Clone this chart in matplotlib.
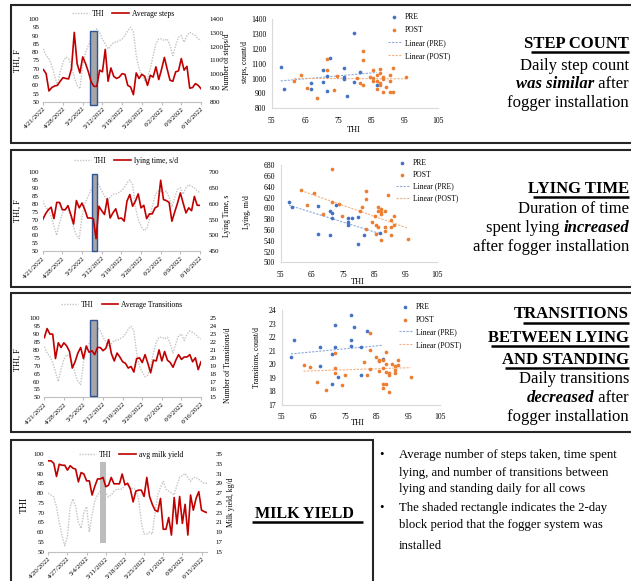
import numpy as np
import pandas as pd
import matplotlib
matplotlib.use("Agg")
import matplotlib.pyplot as plt
import matplotlib.dates as mdates
from matplotlib.lines import Line2D
from matplotlib.patches import Rectangle

plt.rcParams['font.family'] = ['Liberation Serif', 'DejaVu Serif']

W, H = 631, 581
RED = '#C00000'
GREY = '#C4C4C4'
BLUE = '#4472C4'
ORANGE = '#ED7D31'

# ---------------- daily series ----------------
days = pd.date_range('2022-04-21', '2022-06-16')
thi = [82, 78, 76, 72, 66, 60, 68, 74, 77, 76, 72, 65, 60, 58, 72, 80, 84, 88, 91, 94,
       92, 88, 85, 82, 84, 86, 86, 87, 88, 90, 93, 95, 92, 78, 70, 66, 63, 64, 70, 78,
       85, 88, 88, 87, 88, 84, 78, 84, 89, 90, 86, 90, 92, 91, 90, 88, 87]
steps = [1035, 1005, 880, 904, 916, 920, 950, 976, 970, 967, 1040, 1303, 1078, 1010, 1126,
         1078, 1018, 945, 913, 913, 1030, 1018, 1180, 950, 1046, 986, 970, 980, 1005, 1000,
         920, 908, 853, 1010, 970, 1000, 986, 920, 993, 980, 1054, 962, 1037, 1122, 1037,
         957, 950, 1018, 1025, 1114, 1030, 1058, 900, 904, 933, 920, 896]
lying = [550, 568, 581, 589, 553, 604, 604, 581, 581, 594, 566, 536, 610, 587, 602, 581,
         555, 555, 553, 490, 592, 578, 566, 616, 555, 571, 584, 553, 555, 545, 608, 629,
         592, 608, 631, 587, 595, 553, 568, 568, 587, 592, 674, 613, 610, 604, 545, 574,
         602, 634, 602, 571, 587, 578, 623, 595, 595]
transitions = [22.55, 23.7, 23.0, 23.0, 19.9, 21.9, 21.3, 21.9, 21.5, 20.8, 18.7, 19.5,
               20.6, 21.3, 19.9, 21.5, 20.7, 20.9, 20.4, 21.3, 21.3, 20.9, 21.2, 22.3, 20.5,
               19.6, 20.6, 20.1, 19.5, 19.3, 18.7, 18.9, 18.2, 19.9, 20.0, 19.4, 20.4, 19.3,
               18.1, 19.7, 19.6, 21.0, 19.6, 20.8, 19.7, 19.4, 18.8, 19.7, 20.4, 19.8, 20.1,
               20.1, 20.4, 19.5, 20.0, 18.5, 19.5]

milk_days = pd.date_range('2022-04-20', '2022-06-17')
milk_thi = [80, 79, 78, 73, 65, 58.5, 53, 58, 73, 77, 73, 65, 62, 70, 73, 60, 69, 76, 79, 81,
            84, 80, 78, 79, 81, 82, 82, 82, 84, 84, 83, 82, 82, 77, 65, 59, 59, 60, 59, 70,
            79, 83, 86, 82, 81, 80, 79, 84, 88, 89, 90, 88, 86, 88, 88, 87, 86, 85, 85]
milk = [33.6, 33.6, 33.1, 30.4, 32.9, 32.7, 32.7, 31.7, 32.6, 32.1, 31.9, 29.3, 31.2, 30.9,
        29.5, 29.5, 26.6, 28.4, 29.9, 29.9, 30.2, 28.3, 28.6, 30.2, 28.9, 28.9, 28.9, 30.9,
        28.7, 29.0, 27.8, 25.2, 27.4, 27.6, 27.6, 26.3, 30.2, 26.3, 24.7, 23.5, 23.2, 25.9,
        19.6, 19.6, 22.0, 18.4, 26.1, 20.7, 26.3, 20.8, 24.7, 18.4, 26.6, 23.5, 25.9, 27.3,
        23.5, 23.2, 23.0]

# fogger installation block as read on each chart: start, end, THI bottom, THI top
fog_steps = ('2022-05-07 10:00', '2022-05-10 02:00', 48, 93)
fog_lying = ('2022-05-08 14:00', '2022-05-10 12:00', 50, 99)
fog_trans = ('2022-05-07 07:00', '2022-05-09 17:00', 51, 99)
fog_milk = ('2022-05-08 22:00', '2022-05-11 02:00', 54.5, 96)

# ---------------- scatter data (THI vs response) ----------------
s_pre_x = [57.7, 58.8, 66.7, 66.7, 70.5, 70.5, 71.6, 71.6, 72.6, 76.6, 76.6, 76.6, 77.6,
           79.6, 79.6, 81.6, 86.6]
s_pre_y = [1076, 930, 968, 928, 1055, 977, 1015, 915, 1136, 1069, 1009, 995, 885, 1304,
           977, 1042, 959]
s_post_x = [61.8, 63.7, 65.7, 68.7, 71.6, 71.6, 73.7, 74.6, 80.6, 81.6, 82.5, 82.5, 82.5,
            84.6, 85.6, 85.6, 85.6, 86.6, 86.6, 86.6, 87.5, 87.5, 87.5, 87.5, 88.5, 88.5,
            88.5, 89.5, 90.6, 90.6, 90.6, 91.6, 91.6, 95.4]
s_post_y = [984, 1022, 935, 868, 1129, 1060, 924, 1015, 1006, 968, 1185, 1123, 957, 1013,
            1060, 1002, 984, 1024, 984, 928, 1062, 1040, 968, 957, 1013, 1000, 908, 941,
            1026, 986, 908, 1069, 908, 1013]

l_pre_x = [57.7, 58.7, 66.8, 66.8, 70.7, 70.7, 71.6, 71.6, 72.6, 76.7, 76.7, 76.7, 77.8,
           79.7, 79.7, 81.6, 86.8]
l_pre_y = [611, 603, 604, 552, 596, 550, 591, 582, 606, 582, 575, 569, 582, 584, 534, 550,
           554]
l_post_x = [61.5, 63.5, 65.6, 68.7, 71.6, 71.6, 73.6, 74.7, 80.4, 81.2, 82.3, 82.3, 82.3,
            84.3, 85.3, 85.4, 85.4, 86.3, 86.3, 86.3, 87.3, 87.3, 87.3, 87.3, 88.3, 88.3,
            88.3, 89.3, 90.3, 90.3, 90.3, 91.2, 91.2, 95.9]
l_post_y = [634, 606, 629, 589, 674, 611, 609, 585, 596, 603, 633, 617, 562, 575, 586, 570,
            553, 602, 595, 566, 599, 593, 590, 542, 596, 566, 558, 625, 579, 566, 550, 586,
            570, 543]

t_pre_x = [57.9, 58.9, 67.0, 67.0, 70.9, 70.9, 71.9, 71.9, 72.9, 76.9, 76.9, 76.9, 77.9,
           79.9, 79.9, 81.9, 86.9]
t_pre_y = [20.56, 21.79, 21.25, 19.85, 20.73, 18.57, 22.87, 21.25, 19.09, 23.61, 21.76,
           21.35, 22.77, 21.30, 19.18, 22.48, 20.36]
t_post_x = [61.9, 63.9, 66.1, 69.0, 71.9, 71.9, 71.9, 73.9, 75.0, 81.0, 81.9, 82.9, 82.9,
            82.9, 84.9, 85.8, 85.8, 85.8, 86.9, 86.9, 86.9, 86.9, 87.8, 87.8, 87.8, 87.8,
            88.9, 88.9, 88.9, 89.8, 90.9, 90.9, 90.9, 91.8, 91.8, 95.7]
t_post_y = [19.92, 19.82, 18.72, 18.10, 20.80, 19.74, 19.33, 18.47, 19.18, 20.14, 19.21,
            22.30, 21.05, 19.63, 20.56, 20.31, 20.22, 19.53, 20.31, 19.74, 18.57, 18.27,
            20.93, 20.02, 19.45, 18.57, 19.33, 19.21, 17.96, 20.02, 19.90, 19.58, 19.33,
            20.31, 19.95, 19.09]

fig = plt.figure(figsize=(6.31, 5.81), dpi=100)


def fx(x):
    return x / W


def fy(y):
    return 1 - y / H


def box(l, t, r, b):
    return fig.add_axes([l / W, 1 - b / H, (r - l) / W, (b - t) / H])


def seg(x0, y0, x1, y1, lw=1.5, color='#262626'):
    fig.add_artist(Line2D([fx(x0), fx(x1)], [fy(y0), fy(y1)], lw=lw, color=color,
                          solid_capstyle='butt'))


def time_panel(rect, dates, thi_vals, vals, name, rlim, rticks, fog, fog_fc, fog_ec,
               left_lab, right_lab, leg_xy, llab_xy, rlab_xy, left_size=6):
    ax = box(*rect)
    ax.plot(dates, thi_vals, color=GREY, ls=(0, (1, 1)), lw=1.0)
    ax.set_ylim(50, 100)
    ax.set_yticks(np.arange(50, 101, 5))
    ax.set_xlim(dates[0], dates[-1])
    x0 = mdates.date2num(pd.Timestamp(fog[0]))
    x1 = mdates.date2num(pd.Timestamp(fog[1]))
    ax.add_patch(Rectangle((x0, fog[2]), x1 - x0, fog[3] - fog[2], fc=fog_fc, ec=fog_ec,
                           lw=1, zorder=3, clip_on=False))
    ticks = dates[::7]
    ax.set_xticks(ticks)
    ax.set_xticklabels([f'{d.month}/{d.day}/{d.year}' for d in ticks], rotation=45,
                       ha='right', rotation_mode='anchor', fontsize=5)
    ax2 = ax.twinx()
    ax2.plot(dates, vals, color=RED, lw=1.2)
    ax2.set_ylim(rlim)
    ax2.set_yticks(rticks)
    for a in (ax, ax2):
        for s in ('top', 'left', 'right'):
            a.spines[s].set_visible(False)
        a.tick_params(axis='y', length=0, labelsize=5, pad=3)
    ax2.tick_params(axis='y', pad=6)
    ax2.spines['bottom'].set_visible(False)
    ax.spines['bottom'].set_color('#BFBFBF')
    ax.tick_params(axis='x', length=2, color='#BFBFBF', pad=1)
    handles = [Line2D([], [], color=GREY, ls=(0, (1, 1)), lw=1.0),
               Line2D([], [], color=RED, lw=1.2)]
    fig.legend(handles, ['THI', name], loc='center', ncol=2, frameon=False, fontsize=5.5,
               bbox_to_anchor=(fx(leg_xy[0]), fy(leg_xy[1])), handlelength=2.2,
               columnspacing=1.0, handletextpad=0.4)
    fig.text(fx(llab_xy[0]), fy(llab_xy[1]), left_lab, rotation=90, ha='center',
             va='center', fontsize=left_size)
    fig.text(fx(rlab_xy[0]), fy(rlab_xy[1]), right_lab, rotation=90, ha='center',
             va='center', fontsize=5.5)


def scatter_panel(rect, pre_x, pre_y, post_x, post_y, ylim, yticks, ylabel, ylab_xy,
                  xlab_xy, leg_xy, spacing):
    ax = box(*rect)
    ax.scatter(pre_x, pre_y, s=7, color=BLUE, label='PRE', zorder=3, lw=0)
    ax.scatter(post_x, post_y, s=7, color=ORANGE, label='POST', zorder=3, lw=0)
    for xs, ys, c, lab in ((pre_x, pre_y, '#8FAADC', 'Linear (PRE)'),
                           (post_x, post_y, '#F4B183', 'Linear (POST)')):
        k, b = np.polyfit(xs, ys, 1)
        xx = np.array([min(xs), max(xs)])
        ax.plot(xx, k * xx + b, ls=(0, (2, 1.2)), lw=0.8, color=c, label=lab)
    ax.set_xlim(55, 105)
    ax.set_xticks(range(55, 106, 10))
    ax.set_ylim(ylim)
    ax.set_yticks(yticks)
    for s in ('top', 'right'):
        ax.spines[s].set_visible(False)
    for s in ('left', 'bottom'):
        ax.spines[s].set_color('#D9D9D9')
    ax.tick_params(length=0, labelsize=5.5)
    ax.tick_params(axis='x', pad=6)
    ax.tick_params(axis='y', pad=4)
    fig.text(fx(ylab_xy[0]), fy(ylab_xy[1]), ylabel, rotation=90, ha='center', va='center',
             fontsize=5.5)
    fig.text(fx(xlab_xy[0]), fy(xlab_xy[1]), 'THI', ha='center', va='center', fontsize=6)
    h, l = ax.get_legend_handles_labels()
    fig.legend(h, l, loc='upper left', bbox_to_anchor=(fx(leg_xy[0]), fy(leg_xy[1])),
               frameon=False, fontsize=5.5, handlelength=1.7, handletextpad=0.5,
               labelspacing=spacing, borderpad=0, borderaxespad=0)


# ---------------- panel frames ----------------
for top, bottom in ((5, 143), (150, 287), (293, 432)):
    seg(10, top, 631, top)
    seg(10, bottom, 631, bottom)
    seg(11, top, 11, bottom)
seg(10, 440, 374, 440)
seg(11, 440, 11, 581)
seg(373, 440, 373, 581)

# ---------------- time series ----------------
time_panel((43.3, 19, 201, 102), days, thi, steps, 'Average steps', (800, 1400),
           range(800, 1401, 100), fog_steps, '#A6A6A6', '#2F5597', 'THI, F',
           'Number of steps/d', (123, 14), (18, 61), (227, 62))
time_panel((42.7, 172, 200, 251.3), days, thi, lying, 'lying time, s/d', (450, 700),
           range(450, 701, 50), fog_lying, '#A6A6A6', '#2F5597', 'THI, F',
           'Lying Time, s', (126, 161), (18, 211), (227, 216))
time_panel((44.3, 318.3, 201, 397.3), days, thi, transitions, 'Average Transitions',
           (15, 25), range(15, 26), fog_trans, '#A6A6A6', '#2F5597', 'THI, F',
           'Number of Transitions/d', (122, 305), (18, 360), (228, 365))
time_panel((48.3, 454, 207, 551.7), milk_days, milk_thi, milk, 'avg milk yield', (15, 35),
           range(15, 36, 2), fog_milk, '#BDBDBD', 'none', 'THI', 'Milk yield, kg/d',
           (131, 455), (24, 505), (231, 502), left_size=7)

# ---------------- scatters ----------------
scatter_panel((271.7, 19, 438, 108.3), s_pre_x, s_pre_y, s_post_x, s_post_y, (800, 1400),
              range(800, 1401, 100), 'steps, count/d', (245, 62), (354, 130), (388, 13), 0.65)
scatter_panel((280.7, 165.3, 436.7, 262.3), l_pre_x, l_pre_y, l_post_x, l_post_y,
              (500, 680), range(500, 681, 20), 'Lying, m/d', (247, 212), (358, 282),
              (396, 159), 0.5)
scatter_panel((281.7, 310, 440, 405), t_pre_x, t_pre_y, t_post_x, t_post_y, (17, 24),
              range(17, 25), 'Transitions, count/d', (257, 357), (358, 423), (399, 303),
              0.6)

# ---------------- right-hand notes ----------------
renderer = fig.canvas.get_renderer()


def rline(y, parts, size=12, right=629):
    x = right
    for txt, weight, style in reversed(parts):
        t = fig.text(fx(x), fy(y), txt, ha='right', va='baseline', fontsize=size,
                     fontweight=weight, fontstyle=style)
        x = t.get_window_extent(renderer).x0


def heading(y, txt, under_x0, under_y):
    rline(y, [(txt, 'bold', 'normal')])
    seg(under_x0, under_y, 629, under_y, lw=1.8, color='black')


R = ('normal', 'normal')
BI = ('bold', 'italic')

heading(48.5, 'STEP COUNT', 531, 52)
rline(69.5, [('Daily step count',) + R])
rline(88.5, [('was similar',) + BI, (' after',) + R])
rline(107, [('fogger installation',) + R])

heading(192.7, 'LYING TIME', 533, 197)
rline(213, [('Duration of time',) + R])
rline(232, [('spent lying ',) + R, ('increased',) + BI])
rline(251, [('after fogger installation',) + R])

heading(318, 'TRANSITIONS', 523, 323)
heading(341.5, 'BETWEEN LYING', 491, 346)
heading(363.5, 'AND STANDING', 505, 368)
rline(383, [('Daily transitions',) + R])
rline(402, [('decreased',) + BI, (' after',) + R])
rline(421, [('fogger installation',) + R])

fig.text(fx(304), fy(518), 'MILK YIELD', ha='center', va='baseline', fontsize=11.5,
         fontweight='bold')
seg(252, 522, 363, 522, lw=1.8, color='black')

bullets = [(458, '•', 'Average number of steps taken, time spent'),
           (476, '', 'lying, and number of transitions between'),
           (492, '', 'lying and standing daily for all cows'),
           (511, '•', 'The shaded rectangle indicates the 2-day'),
           (528, '', 'block period that the fogger system was'),
           (549, '', 'installed')]
for y, mark, line in bullets:
    if mark:
        fig.text(fx(382), fy(y), mark, ha='center', va='baseline', fontsize=9.2)
    fig.text(fx(399), fy(y), line, ha='left', va='baseline', fontsize=9.2)

fig.savefig('out.png', dpi=100, facecolor='white')
